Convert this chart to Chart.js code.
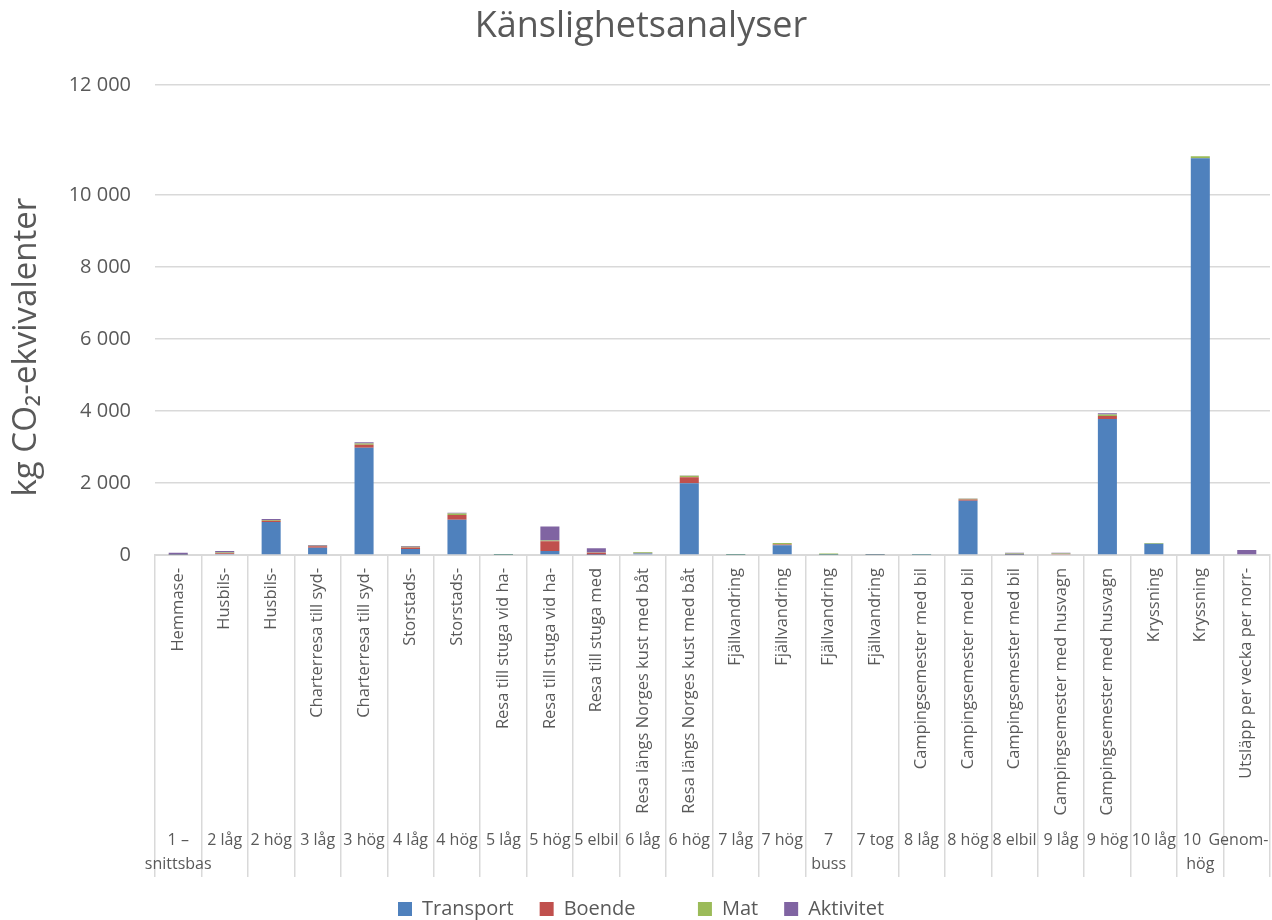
<!DOCTYPE html>
<html><head><meta charset="utf-8">
<script src="https://cdn.jsdelivr.net/npm/chart.js@4/dist/chart.umd.min.js"></script>
<style>html,body{margin:0;padding:0;background:#fff;}</style>
</head><body>
<canvas id="c" width="1272" height="920"></canvas>
<script>
const chartTitle = 'Känslighetsanalyser';
const yAxisTitle = 'kg CO₂-ekvivalenter';
const seriesNames = ['Transport', 'Boende', 'Mat', 'Aktivitet'];
const topLabels = [
  'Hemmase-', 'Husbils-', 'Husbils-', 'Charterresa till syd-', 'Charterresa till syd-',
  'Storstads-', 'Storstads-', 'Resa till stuga vid ha-', 'Resa till stuga vid ha-', 'Resa till stuga med',
  'Resa längs Norges kust med båt', 'Resa längs Norges kust med båt',
  'Fjällvandring', 'Fjällvandring', 'Fjällvandring', 'Fjällvandring',
  'Campingsemester med bil', 'Campingsemester med bil', 'Campingsemester med bil',
  'Campingsemester med husvagn', 'Campingsemester med husvagn',
  'Kryssning', 'Kryssning', 'Utsläpp per vecka per norr-'
];
const bottomLabels = [
  ['1 –', 'snittsbas'], '2 låg', '2 hög', '3 låg', '3 hög', '4 låg', '4 hög', '5 låg', '5 hög', '5 elbil',
  '6 låg', '6 hög', '7 låg', '7 hög', ['7', 'buss'], '7 tog', '8 låg', '8 hög', '8 elbil', '9 låg', '9 hög',
  '10 låg', ['10\u00a0\u00a0\u00a0\u00a0', 'hög'], 'Genom-\u00a0\u00a0\u00a0\u00a0'
];
const transport = [10, 30, 920, 200, 2980, 170, 980, 5, 110, 10, 40, 1990, 5, 270, 5, 5, 5, 1510, 10, 20, 3780, 310, 11020, 0];
const boende    = [10, 20, 30, 40, 80, 40, 130, 5, 270, 50, 10, 170, 5, 20, 5, 10, 5, 30, 10, 10, 80, 0, 0, 0];
const mat       = [10, 20, 20, 20, 40, 20, 40, 20, 20, 10, 25, 40, 15, 40, 30, 10, 10, 25, 20, 10, 40, 25, 55, 0];
const aktivitet = [30, 40, 30, 20, 30, 20, 25, 0, 390, 120, 5, 10, 0, 5, 0, 0, 0, 5, 20, 20, 35, 0, 0, 140];
const yTickValues = [0, 2000, 4000, 6000, 8000, 10000, 13050];
const yTickLabels = ['0', '2 000', '4 000', '6 000', '8 000', '10 000', '12 000'];

const FONT = '"Open Sans", "Noto Sans", sans-serif';
const TEXT = '#595959';
const GRID = '#d9d9d9';
const colors = ['#4F81BD', '#C0504D', '#9BBB59', '#8064A2'];

const yTitlePlugin = {
  id: 'yTitle',
  afterDraw(chart) {
    const {ctx, chartArea} = chart;
    ctx.save();
    ctx.translate(27, (chartArea.top + chartArea.bottom) / 2 + 27);
    ctx.rotate(-Math.PI / 2);
    ctx.font = '33px ' + FONT;
    ctx.fillStyle = TEXT;
    ctx.textAlign = 'center';
    ctx.textBaseline = 'middle';
    ctx.fillText(yAxisTitle, 0, 0);
    ctx.restore();
  }
};

const seriesData = [transport, boende, mat, aktivitet];
new Chart(document.getElementById('c'), {
  type: 'bar',
  data: {
    labels: topLabels,
    datasets: seriesNames.map((name, i) => ({
      label: name,
      data: seriesData[i],
      backgroundColor: colors[i],
      borderWidth: 0,
      barPercentage: 0.41,
      categoryPercentage: 1.0,
      xAxisID: 'x',
      yAxisID: 'y'
    }))
  },
  options: {
    responsive: false,
    animation: false,
    layout: {padding: {left: 12, right: 2, top: 0, bottom: -9}},
    plugins: {
      title: {
        display: true, text: chartTitle, color: TEXT,
        font: {family: FONT, size: 36, weight: 'normal'},
        padding: {top: 5, bottom: 37}
      },
      legend: {
        position: 'bottom',
        labels: {
          color: TEXT, font: {family: FONT, size: 20}, boxWidth: 14, boxHeight: 14, padding: 26,
          generateLabels(chart) {
            const items = Chart.defaults.plugins.legend.labels.generateLabels(chart);
            items[1].text = items[1].text + '\u00a0\u00a0\u00a0\u00a0\u00a0\u00a0\u00a0';
            return items;
          }
        }
      },
      tooltip: {enabled: false}
    },
    scales: {
      x: {
        stacked: true,
        position: 'bottom',
        grid: {drawOnChartArea: false, drawTicks: true, tickLength: 322, color: GRID, lineWidth: 1.5},
        border: {color: GRID, width: 2},
        ticks: {autoSkip: false, minRotation: 90, maxRotation: 90, padding: -309, color: TEXT, font: {family: FONT, size: 16.5}},
        afterFit(s) { s.height = 266; s.paddingLeft = 0; s.paddingRight = 0; }
      },
      x2: {
        type: 'category',
        position: 'bottom',
        labels: bottomLabels,
        offset: true,
        grid: {display: false},
        border: {display: false},
        ticks: {autoSkip: false, maxRotation: 0, minRotation: 0, padding: -1, color: TEXT, font: {family: FONT, size: 16, lineHeight: 1.5}},
        afterFit(s) { s.height = 52; s.paddingLeft = 0; s.paddingRight = 0; }
      },
      y: {
        stacked: true,
        min: 0, max: yTickValues[yTickValues.length - 1],
        grid: {color: GRID, lineWidth: 1.5, drawTicks: false},
        border: {display: false},
        afterBuildTicks(s) { s.ticks = yTickValues.map(v => ({value: v})); },
        ticks: {
          padding: 24, color: TEXT, font: {family: FONT, size: 20},
          callback: (v, i) => yTickLabels[i]
        },
        afterFit(s) { s.width = 143; }
      }
    }
  },
  plugins: [yTitlePlugin]
});
</script>
</body></html>
